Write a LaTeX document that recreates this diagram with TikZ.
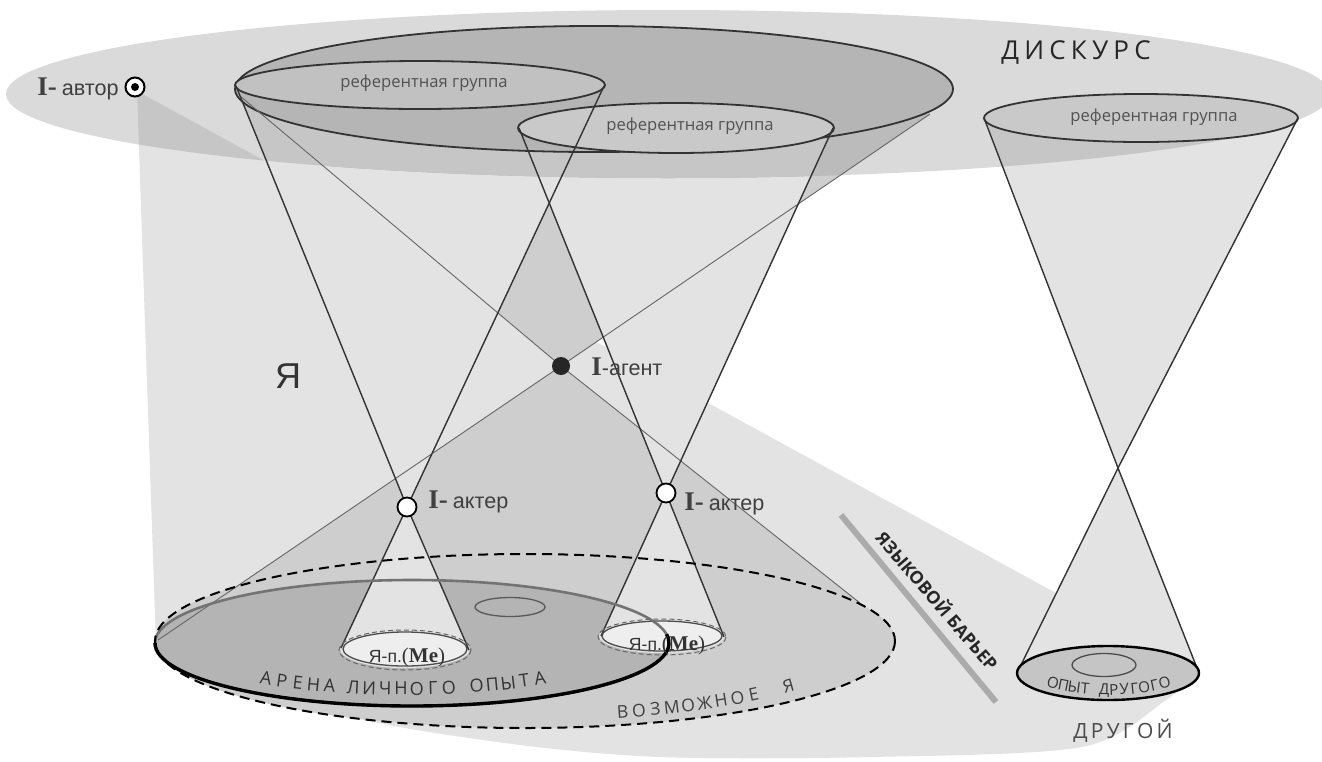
\documentclass[tikz,border=0pt]{standalone}
\usepackage{fontspec}
\setmainfont{Liberation Serif}
\newfontfamily\osans{Open Sans}
\newfontfamily\lsans{Liberation Sans}
\newcommand{\serI}{\rmfamily\bfseries\fontsize{13.5pt}{14pt}\selectfont}
\newcommand{\labfont}{\lsans\fontsize{10.8pt}{12pt}\selectfont}
\definecolor{disc}{HTML}{DADADA}
\definecolor{lite}{HTML}{E3E3E3}
\definecolor{litedisc}{HTML}{C6C6C6}
\definecolor{med}{HTML}{CECECE}
\definecolor{meddisc}{HTML}{BBBBBB}
\definecolor{bigc}{HTML}{B5B5B5}
\definecolor{grpA}{HTML}{C1C1C1}
\definecolor{grpB}{HTML}{C9C9C9}
\definecolor{arenac}{HTML}{B4B4B4}
\definecolor{yap}{HTML}{EEEEEE}
\definecolor{opf}{HTML}{C5C5C5}
\newcommand{\fillCAup}[1]{\fill[#1] (c1tl) -- (act1) -- (c1tr) -- cycle; \fill[#1] (420,85) ellipse [x radius=185, y radius=24];}
\newcommand{\fillCAlow}[1]{\fill[#1] (act1) -- (c1bl) -- (c1br) -- cycle; \fill[#1] (405,649) ellipse [x radius=65, y radius=19];}
\newcommand{\fillCBup}[1]{\fill[#1] (c2tl) -- (act2) -- (c2tr) -- cycle; \fill[#1] (676,128) ellipse [x radius=158, y radius=25];}
\newcommand{\fillCBlow}[1]{\fill[#1] (act2) -- (c2bl) -- (c2br) -- cycle; \fill[#1] (662,636) ellipse [x radius=63, y radius=17];}
\newcommand{\fillCR}[1]{\fill[#1] (rtl) -- (rcross) -- (rtr) -- cycle; \fill[#1] (1141,118) ellipse [x radius=157, y radius=24]; \fill[#1] (rcross) -- (rbl) -- (rbr) -- cycle;}
\newcommand{\fillBigUp}[1]{\fill[#1] (Aup) -- (agent) -- (Bup) -- cycle; \fill[#1] (594,89) ellipse [x radius=359, y radius=63];}
\newcommand{\fillBigLow}[1]{\fill[#1] (agent) -- (Adn) -- (Bdn) -- cycle; \fill[#1] (525,641) ellipse [x radius=370, y radius=87];}
\newcommand{\fillSelf}[1]{\fill[#1] (137,91) -- (1056,593) -- (1199,673) -- plot[smooth] coordinates {(1192,677) (1166,700) (1082,747) (871,757) (660,757) (505,743) (337,713) (156,643)} -- cycle;}
\begin{document}
\begin{tikzpicture}[x=0.5pt,y=-0.5pt,
  edgeline/.style={draw=black!80, line width=0.7pt},
  thinline/.style={draw=black!60, line width=0.45pt},
  ellline/.style={draw=black!80, line width=0.9pt},
  arcletter/.style={anchor=base, inner sep=0pt, text=black!80, font=\osans\fontsize{9pt}{10pt}\selectfont},
  actor/.style={circle, draw=black, line width=0.9pt, fill=white, inner sep=0pt, minimum size=9.5pt},
  lbl/.style={inner sep=0pt, text=black!75},
  grplabel/.style={inner sep=0pt, anchor=base, text=black!68, font=\osans\fontsize{8.3pt}{9pt}\selectfont},
]
\useasboundingbox (0,0) rectangle (1322,761);
\fill[white] (0,0) rectangle (1322,761);
\clip (0,0) rectangle (1322,761);

% key points
\coordinate (aut) at (135,87);
\coordinate (agent) at (561,366);
\coordinate (act1) at (407,507);
\coordinate (act2) at (666,493);
\coordinate (rcross) at (1118,468);
\coordinate (c1tl) at (236,86);
\coordinate (c1tr) at (604,86);
\coordinate (c1bl) at (341,648);
\coordinate (c1br) at (469,650);
\coordinate (c2tl) at (519,128);
\coordinate (c2tr) at (833,128);
\coordinate (c2bl) at (601,636);
\coordinate (c2br) at (724,637);
\coordinate (rtl) at (984,118);
\coordinate (rtr) at (1298,118);
\coordinate (rbl) at (1017,673);
\coordinate (rbr) at (1199,673);
\coordinate (Aup) at (240,96);
\coordinate (Adn) at (860,603);
\coordinate (Bup) at (930,114);
\coordinate (Bdn) at (158,640);
\coordinate (barA) at (841,515);
\coordinate (barB) at (996,702);

% discourse
\fill[disc] (668,94) ellipse [x radius=662, y radius=84];

% light union
\fillSelf{lite}
\fillCAup{lite} \fillCAlow{lite}
\fillCBup{lite} \fillCBlow{lite}
\fillCR{lite}
\fillBigUp{lite} \fillBigLow{lite}

% big double cone (medium)
\fillBigUp{med} \fillBigLow{med}

% arena
\fill[arenac] (412,643) ellipse [x radius=257, y radius=63];

% cones again light
\fillCAup{lite} \fillCAlow{lite}
\fillCBup{lite} \fillCBlow{lite}

% overlaps inside discourse
\begin{scope}
  \clip (668,94) ellipse [x radius=662, y radius=84];
  \fillSelf{litedisc}
  \fillCR{litedisc}
  \fillBigUp{litedisc}
  \fill[meddisc] (Aup) -- (agent) -- (Bup) -- cycle;
  \fillCAup{litedisc}
  \fillCBup{litedisc}
\end{scope}

% top ellipses
\fill[bigc] (594,89) ellipse [x radius=359, y radius=63];
\draw[ellline] (594,89) ellipse [x radius=359, y radius=63];
\filldraw[fill=grpA, ellline] (420,85) ellipse [x radius=185, y radius=24];
\filldraw[fill=grpB, ellline] (676,128) ellipse [x radius=158, y radius=25];
\filldraw[fill=grpB, ellline] (1141,118) ellipse [x radius=157, y radius=24];

% thin lines of the big cone
\draw[thinline] (Aup) -- (agent) -- (Adn);
\draw[thinline] (Bup) -- (agent) -- (Bdn);

% cone edges
\draw[edgeline] (c1tl) -- (act1) -- (c1br);
\draw[edgeline] (c1tr) -- (act1) -- (c1bl);
\draw[edgeline] (c2tl) -- (act2) -- (c2br);
\draw[edgeline] (c2tr) -- (act2) -- (c2bl);
\draw[edgeline] (rtl) -- (rcross) -- (rbr);
\draw[edgeline] (rtr) -- (rcross) -- (rbl);

% Me ellipses
\fill[yap] (405,649) ellipse [x radius=62, y radius=17];
\draw[black!70, line width=0.65pt] (405,649) ellipse [x radius=62, y radius=17];
\draw[black!60, line width=0.5pt, dash pattern=on 2.5pt off 1.5pt] (405,650) ellipse [x radius=66, y radius=20];
\fill[yap] (662,636) ellipse [x radius=60, y radius=15];
\draw[black!70, line width=0.65pt] (662,636) ellipse [x radius=60, y radius=15];
\draw[black!60, line width=0.5pt, dash pattern=on 2.5pt off 1.5pt] (662,637) ellipse [x radius=64, y radius=18];

% arena outline
\draw[black!55, line width=1.3pt] (412,643) ellipse [x radius=257, y radius=63];
\draw[black, line width=1.7pt] (155,643) arc [start angle=180, end angle=-8, x radius=257, y radius=63];
\draw[black!65, line width=0.65pt] (510,607) ellipse [x radius=35, y radius=9.5];

% possible self
\draw[black, line width=1pt, dash pattern=on 5pt off 3pt] (525,641) ellipse [x radius=370, y radius=87];

% experience of the other
\fill[opf] (1108,673) ellipse [x radius=91, y radius=27];
\draw[black, line width=1.2pt] (1108,673) ellipse [x radius=91, y radius=27];
\draw[black!70, line width=0.65pt] (1104,665) ellipse [x radius=32, y radius=11.5];

% language barrier
\draw[black!33, line width=3pt] (barA) -- (barB);

% points
\node[circle, draw=black, line width=1pt, fill=white, inner sep=0pt, minimum size=9.5pt] (nAut) at (aut) {};
\node[circle, fill=black, inner sep=0pt, minimum size=4pt] (nAutDot) at (aut) {};
\node[circle, fill=black!85, inner sep=0pt, minimum size=9pt] (nAgent) at (agent) {};
\node[actor] (nAct1) at (act1) {};
\node[actor] (nAct2) at (act2) {};

% texts
\node[lbl, anchor=base east] (tAut) at (119,95) {{\serI I-} {\labfont автор}};
\node[lbl, anchor=base west] (tAgent) at (591,375) {{\serI I}{\labfont -агент}};
\node[lbl, anchor=base west] (tAct1) at (428,508) {{\serI I-} {\labfont актер}};
\node[lbl, anchor=base west] (tAct2) at (684,510) {{\serI I-} {\labfont актер}};
\node[lbl, anchor=base, text=black!80, font=\lsans\fontsize{18pt}{20pt}\selectfont] (tYa) at (288,388) {Я};
\node[grplabel] (tG1) at (424,87) {референтная группа};
\node[grplabel] (tG2) at (690,130) {референтная группа};
\node[grplabel] (tG3) at (1154,121) {референтная группа};
\node[lbl, anchor=base, text=black!85, font=\osans\fontsize{13pt}{14pt}\selectfont] (tDisc) at (1076,59) {Д\kern2.6pt И\kern2.6pt С\kern2.6pt К\kern2.6pt У\kern2.6pt Р\kern2.6pt С};
\node[lbl, anchor=base, text=black!70, font=\osans\fontsize{10.5pt}{11pt}\selectfont] (tOther) at (1123,738) {Д\kern1.6pt Р\kern1.6pt У\kern1.6pt Г\kern1.6pt О\kern1.6pt Й};
\node[lbl, rotate=-49.4, text=black!85, font=\osans\bfseries\fontsize{8.8pt}{9pt}\selectfont] (tBar) at (938,600) {ЯЗЫКОВОЙ БАРЬЕР};
\node[lbl, anchor=base, text=black!80] (tMe1) at (407,662) {{\lsans\fontsize{8.8pt}{9pt}\selectfont Я-п.}{\fontsize{10.5pt}{11pt}\selectfont(\textbf{Me})}};
\node[lbl, anchor=base, text=black!80] (tMe2) at (667,650) {{\lsans\fontsize{8.8pt}{9pt}\selectfont Я-п.}{\fontsize{10.5pt}{11pt}\selectfont(\textbf{Me})}};

% curved texts
\foreach \xx/\ch [count=\kk] in {265/А,281/Р,297/Е,313/Н,329/А,353/Л,369/И,385/Ч,401/Н,417/О,433/Г,449/О,477/О,493/П,509/Ы,525/Т,541/А}{
  \pgfmathsetmacro\tA{acos((\xx-403)/232)}
  \pgfmathsetmacro\yA{643+52*sin(\tA)}
  \pgfmathsetmacro\rA{atan((52*cos(\tA))/(232*sin(\tA)))}
  \node[arcletter, rotate=\rA] (ar\kk) at (\xx,\yA) {\ch};
}
\foreach \xx/\ch [count=\kk] in {623/В,639.5/О,656/З,672.5/М,689/О,705.5/Ж,722/Н,738.5/О,755/Е,790/Я}{
  \pgfmathsetmacro\tA{acos((\xx-525)/345)}
  \pgfmathsetmacro\yA{641+80*sin(\tA)}
  \pgfmathsetmacro\rA{atan((80*cos(\tA))/(345*sin(\tA)))}
  \node[arcletter, text=black!75, font=\osans\fontsize{8.8pt}{9pt}\selectfont, rotate=\rA] (vz\kk) at (\xx,\yA) {\ch};
}
\foreach \xx/\ch [count=\kk] in {1051.5/О,1062.5/П,1073.5/Ы,1084.5/Т,1104/Д,1114/Р,1124.5/У,1135/Г,1145/О,1155.5/Г,1166/О}{
  \pgfmathsetmacro\tA{acos((\xx-1108)/88)}
  \pgfmathsetmacro\yA{666+29*sin(\tA)}
  \pgfmathsetmacro\rA{atan((29*cos(\tA))/(88*sin(\tA)))}
  \node[arcletter, text=black!80, font=\osans\fontsize{7.6pt}{8pt}\selectfont, rotate=\rA] (op\kk) at (\xx,\yA) {\ch};
}
\end{tikzpicture}
\end{document}
